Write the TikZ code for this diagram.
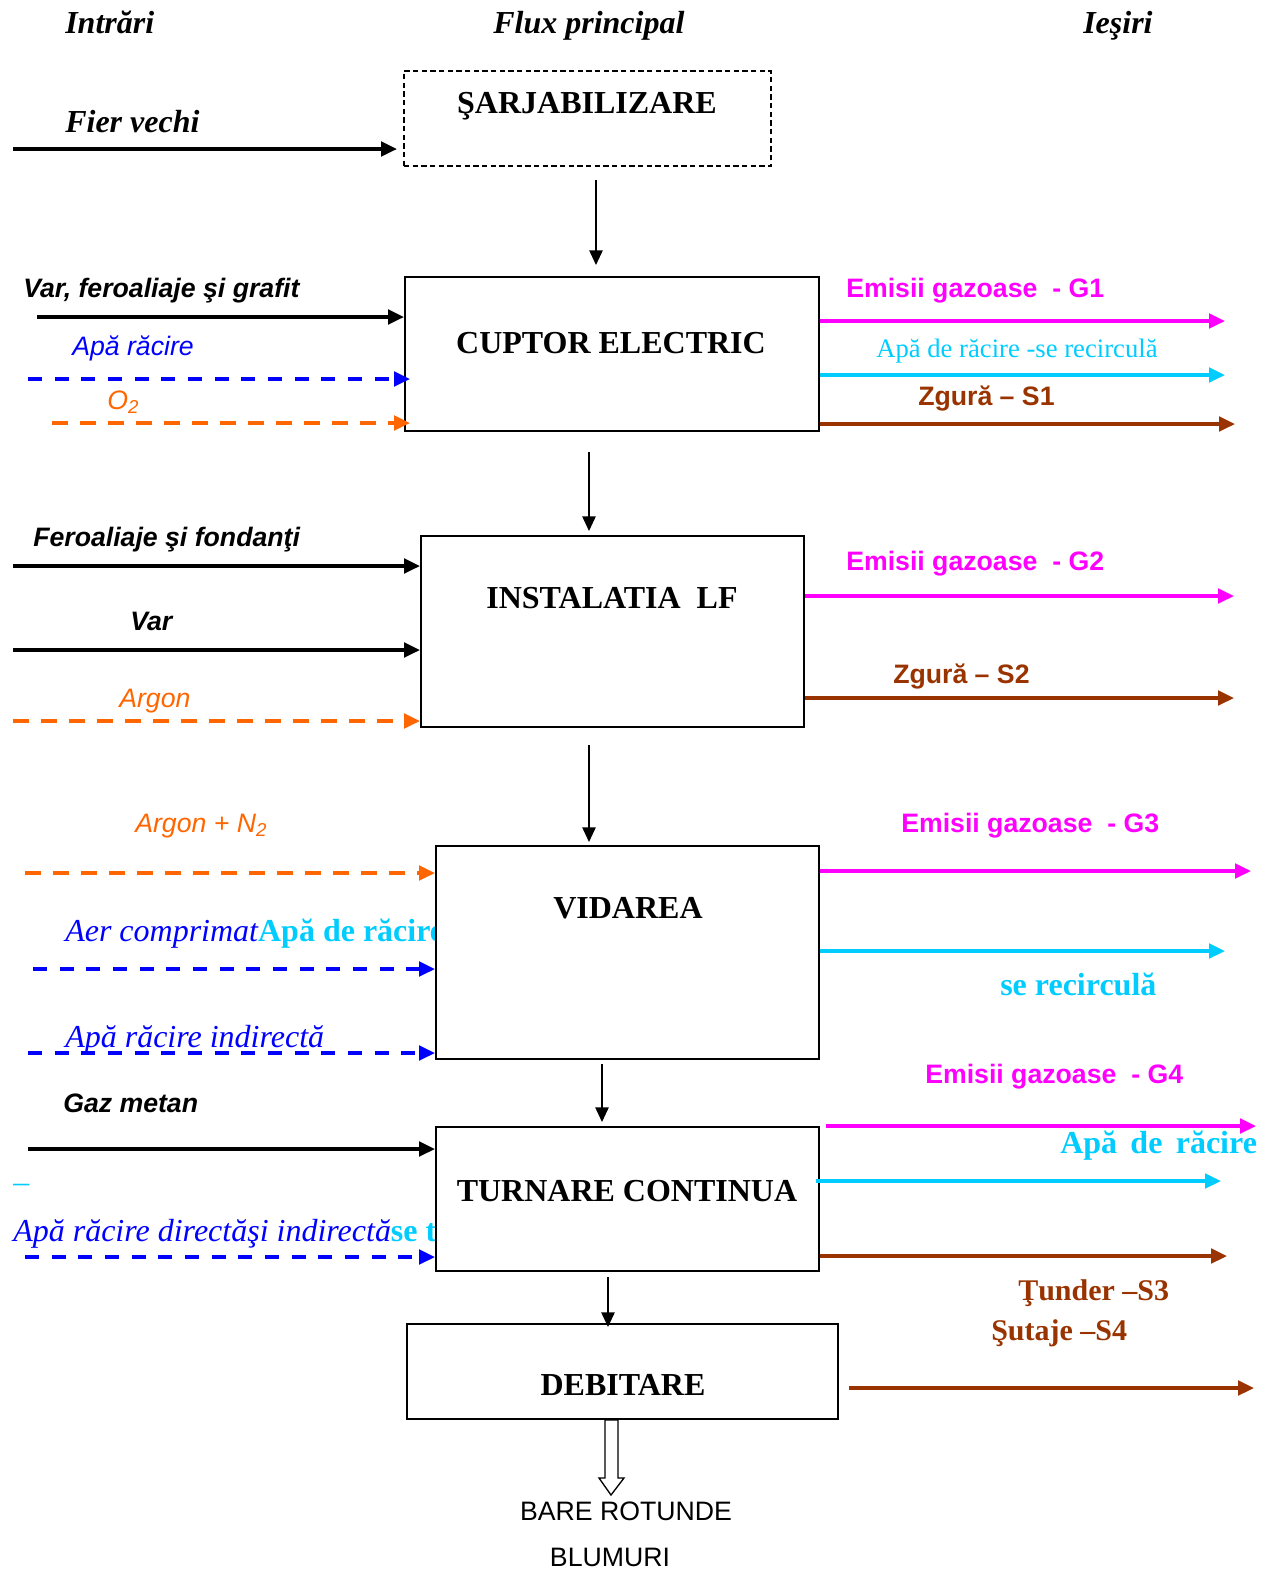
\documentclass[tikz,border=0pt]{standalone}
\usepackage{fontspec}
\setmainfont{Liberation Serif}
\setsansfont{Liberation Sans}
\usetikzlibrary{arrows.meta,fit}
\definecolor{mag}{RGB}{255,0,255}
\definecolor{cya}{RGB}{0,204,255}
\definecolor{blu}{RGB}{0,0,255}
\definecolor{ora}{RGB}{255,102,0}
\definecolor{brn}{RGB}{153,51,0}
\newcommand\fS{\fontsize{24pt}{28pt}\selectfont}
\newcommand\fSm{\fontsize{22.5pt}{26pt}\selectfont}
\newcommand\fSs{\fontsize{20pt}{24pt}\selectfont}
\newcommand\fA{\sffamily\fontsize{20pt}{24pt}\selectfont}
\tikzset{
  lbl/.style={inner sep=0pt, anchor=base west},
  ctr/.style={inner sep=0pt, anchor=base},
  procbox/.style={draw, line width=1.5pt, fill=white, inner sep=0pt},
  sarr/.style={line width=2.5pt, -{Triangle[length=12pt,width=11pt]}},
  dshb/.style={dash pattern=on 10.5pt off 9.5pt},
  dsho/.style={dash pattern=on 12pt off 9pt},
  flow/.style={line width=1.2pt, -{Triangle[length=11pt,width=10pt]}},
}
\begin{document}
\begin{tikzpicture}[x=0.75pt,y=-0.75pt]
\useasboundingbox (0,0) rectangle (1272,1572);

% headers
\node[lbl] (h1) at (65,33) {\fS\bfseries\itshape Intrări};
\node[lbl] (h2) at (493,33) {\fS\bfseries\itshape Flux principal};
\node[lbl] (h3) at (1083,33) {\fS\bfseries\itshape Ieşiri};

% --- text labels (drawn before boxes so boxes cover overflow)
\node[lbl] (tfier) at (65,132) {\fS\bfseries\itshape Fier vechi};

\node[lbl] (tvar1) at (23,297) {\fA\bfseries\itshape Var, feroaliaje şi grafit};
\node[lbl] (tapa1) at (72,355) {\fA\itshape\color{blu}Apă răcire};
\node[lbl] (to2) at (107,409) {\fA\itshape\color{ora}O\textsubscript{2}};
\node[lbl] (tg1) at (846,297) {\fA\bfseries\color{mag}Emisii gazoase\ \ - G1};
\node[lbl] (tapr1) at (876,357) {\fSs\color{cya}Apă de răcire -se recirculă};
\node[lbl] (ts1) at (918,405) {\fA\bfseries\color{brn}Zgură – S1};

\node[lbl] (tfer) at (33,546) {\fA\bfseries\itshape Feroaliaje şi fondanţi};
\node[lbl] (tvar2) at (130,630) {\fA\bfseries\itshape Var};
\node[lbl] (targ) at (119,707) {\fA\itshape\color{ora}Argon};
\node[lbl] (tg2) at (846,570) {\fA\bfseries\color{mag}Emisii gazoase\ \ - G2};
\node[lbl] (ts2) at (893,683) {\fA\bfseries\color{brn}Zgură – S2};

\node[lbl] (targn) at (135,832) {\fA\itshape\color{ora}Argon + N\textsubscript{2}};
\node[lbl] (taer) at (65,941) {\fS{\itshape\color{blu}Aer comprimat}{\bfseries\color{cya}Apă de răcire}};
\node[lbl] (tind) at (65,1047) {\fS\itshape\color{blu}Apă răcire indirectă};
\node[lbl] (tg3) at (901,832) {\fA\bfseries\color{mag}Emisii gazoase\ \ - G3};
\node[lbl] (trec) at (1000,995) {\fS\bfseries\color{cya}se recirculă};

\node[lbl] (tgaz) at (63,1112) {\fA\bfseries\itshape Gaz metan};
\node[lbl] (tdash) at (13,1192) {\fS\color{cya}–};
\node[lbl] (tdir) at (13,1241) {\fS{\itshape\color{blu}Apă răcire directăşi indirectă}{\bfseries\color{cya}se t}};
\node[lbl] (tg4) at (925,1083) {\fA\bfseries\color{mag}Emisii gazoase\ \ - G4};
\node[lbl] (tapr4) at (1060,1153) {\fS\bfseries\color{cya}Apă\hspace{10pt}de\hspace{10pt}răcire};
\node[lbl] (ts3) at (1018,1300) {\fSm\bfseries\color{brn}Ţunder –S3};
\node[lbl] (ts4) at (991,1340) {\fSm\bfseries\color{brn}Şutaje –S4};

\node[ctr] (tbare) at (626,1520) {\fA BARE ROTUNDE};
\node[ctr] (tblum) at (610,1566) {\fA BLUMURI};

% --- process boxes
\node[procbox, dash pattern=on 4pt off 2.5pt, fill=none, fit={(404,71) (771,166)}] (sarj) {};
\node[ctr] (tsarj) at (587,113) {\fS\bfseries ŞARJABILIZARE};

\node[procbox, fit={(405,277) (819,431)}] (cup) {};
\node[ctr] (tcup) at (611,353) {\fS\bfseries CUPTOR ELECTRIC};

\node[procbox, fit={(421,536) (804,727)}] (lf) {};
\node[ctr] (tlf) at (612,608) {\fS\bfseries INSTALATIA\ \ LF};

\node[procbox, fit={(436,846) (819,1059)}] (vid) {};
\node[ctr] (tvid) at (628,918) {\fS\bfseries VIDAREA};

\node[procbox, fit={(436,1127) (819,1271)}] (tur) {};
\node[ctr] (ttur) at (627,1201) {\fS\bfseries TURNARE CONTINUA};

\node[procbox, fit={(407,1324) (838,1419)}] (deb) {};
\node[ctr] (tdeb) at (623,1395) {\fS\bfseries DEBITARE};

% --- main flow arrows
\coordinate (f1s) at (596,180); \coordinate (f1e) at (596,265);
\coordinate (f2s) at (589,452); \coordinate (f2e) at (589,531);
\coordinate (f3s) at (589,745); \coordinate (f3e) at (589,842);
\coordinate (f4s) at (602,1064); \coordinate (f4e) at (602,1122);
\coordinate (f5s) at (608,1277); \coordinate (f5e) at (608,1327);
\draw[flow] (f1s) -- (f1e);
\draw[flow] (f2s) -- (f2e);
\draw[flow] (f3s) -- (f3e);
\draw[flow] (f4s) -- (f4e);
\draw[flow] (f5s) -- (f5e);

% --- inputs
\coordinate (iFier) at (13,149);
\draw[sarr] (iFier) -- (397,149);

\coordinate (iVar1) at (37,317);
\coordinate (iApa1) at (28,379);
\coordinate (iO2) at (52,423);
\draw[sarr] (iVar1) -- (iVar1 -| cup.west);
\draw[sarr, blu, dshb] (iApa1) -- ([xshift=4.5pt]iApa1 -| cup.west);
\draw[sarr, ora, dsho] (iO2) -- ([xshift=4.5pt]iO2 -| cup.west);

\coordinate (iFer) at (13,566);
\coordinate (iVar2) at (13,650);
\coordinate (iArg) at (13,721);
\draw[sarr] (iFer) -- (iFer -| lf.west);
\draw[sarr] (iVar2) -- (iVar2 -| lf.west);
\draw[sarr, ora, dsho] (iArg) -- (iArg -| lf.west);

\coordinate (iArgN) at (25,873);
\coordinate (iAer) at (33,969);
\coordinate (iInd) at (28,1053);
\draw[sarr, ora, dsho] (iArgN) -- (iArgN -| vid.west);
\draw[sarr, blu, dshb] (iAer) -- (iAer -| vid.west);
\draw[sarr, blu, dshb] (iInd) -- (iInd -| vid.west);

\coordinate (iGaz) at (28,1149);
\coordinate (iDir) at (25,1257);
\draw[sarr] (iGaz) -- (iGaz -| tur.west);
\draw[sarr, blu, dshb] (iDir) -- (iDir -| tur.west);

% --- outputs
\coordinate (oG1) at (1225,321);
\coordinate (oW1) at (1225,375);
\coordinate (oS1) at (1235,424);
\draw[sarr, mag] (oG1 -| cup.east) -- (oG1);
\draw[sarr, cya] (oW1 -| cup.east) -- (oW1);
\draw[sarr, brn] (oS1 -| cup.east) -- (oS1);

\coordinate (oG2) at (1234,596);
\coordinate (oS2) at (1234,698);
\draw[sarr, mag] (oG2 -| lf.east) -- (oG2);
\draw[sarr, brn] (oS2 -| lf.east) -- (oS2);

\coordinate (oG3) at (1251,871);
\coordinate (oW3) at (1225,951);
\draw[sarr, mag] (oG3 -| vid.east) -- (oG3);
\draw[sarr, cya] (oW3 -| vid.east) -- (oW3);

\coordinate (oG4s) at (826,1126); \coordinate (oG4) at (1256,1126);
\coordinate (oW4s) at (816,1181); \coordinate (oW4) at (1221,1181);
\coordinate (oS3) at (1227,1256);
\draw[sarr, mag] (oG4s) -- (oG4);
\draw[sarr, cya] (oW4s) -- (oW4);
\draw[sarr, brn] (oS3 -| tur.east) -- (oS3);

\coordinate (oS4s) at (849,1388); \coordinate (oS4) at (1254,1388);
\draw[sarr, brn] (oS4s) -- (oS4);

% --- hollow output arrow
\draw[line width=1pt, fill=white] (605,1420) -- (605,1478) -- (599,1478) -- (611,1495)
  -- (624,1478) -- (618,1478) -- (618,1420) -- cycle;
\end{tikzpicture}
\end{document}
